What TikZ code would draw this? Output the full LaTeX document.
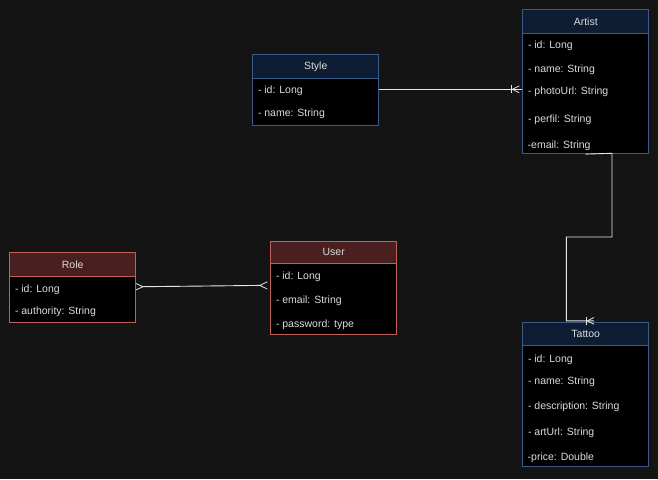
\documentclass[tikz,border=0pt]{standalone}
\usepackage{fontspec}
\setmainfont{Liberation Sans}
\definecolor{bg}{HTML}{141414}
\definecolor{hblue}{HTML}{0E1D33}
\definecolor{bblue}{HTML}{3B5B87}
\definecolor{hred}{HTML}{4A1F1F}
\definecolor{bred}{HTML}{C0605C}
\definecolor{txt}{HTML}{DCDCDC}
\definecolor{wire}{HTML}{E6E6E6}
\begin{document}
\begin{tikzpicture}[x=1pt,y=-1pt,
  font=\fontsize{10.5}{12}\selectfont,
  hdr/.style={draw=#1, line width=0.8pt, anchor=north west, minimum width=126pt, inner sep=0pt, text=txt},
  hdrb/.style={hdr=bblue, fill=hblue},
  hdrr/.style={hdr=bred, fill=hred},
  bodyb/.style={draw=bblue, line width=0.8pt, fill=black, anchor=north west, minimum width=126pt, inner sep=0pt},
  bodyr/.style={draw=bred, line width=0.8pt, fill=black, anchor=north west, minimum width=126pt, inner sep=0pt},
  row/.style={anchor=west, inner sep=0pt, text=txt, text height=7.6pt, text depth=0pt},
  wirel/.style={draw=wire, line width=0.9pt},
  crowmark/.style={draw=wire, line width=0.8pt}
]
\fill[bg] (0,0) rectangle (658,479);
\useasboundingbox (0,0) rectangle (658,479);

% Style
\node[bodyb, minimum height=47.3pt] (styleb) at (252.3,77.7) {};
\node[hdrb, minimum height=23.4pt] (style) at (252.3,54.3) {Style};
\node[row] (styleid) at (257.8,89.5) {- id: Long};
\node[row] (stylename) at (257.8,113) {- name: String};

% Artist
\node[bodyb, minimum height=120.6pt] (artistb) at (522.3,32.7) {};
\node[hdrb, minimum height=23.4pt] (artist) at (522.3,9.3) {Artist};
\node[row] (artistid) at (527.8,45) {- id: Long};
\node[row] (artistname) at (527.8,68.3) {- name: String};
\node[row] (artistphoto) at (527.8,91) {- photoUrl: String};
\node[row] (artistperfil) at (527.8,118.3) {- perfil: String};
\node[row] (artistemail) at (527.5,144.3) {-email: String};

% Role
\node[bodyr, minimum height=46.6pt] (roleb) at (9.3,275.7) {};
\node[hdrr, minimum height=23.4pt] (role) at (9.3,252.3) {Role};
\node[row] (roleid) at (14.8,288.3) {- id: Long};
\node[row] (roleauth) at (14.8,311) {- authority: String};

% User
\node[bodyr, minimum height=70.7pt] (userb) at (270.3,263.3) {};
\node[hdrr, minimum height=22.6pt] (user) at (270.3,240.7) {User};
\node[row] (userid) at (275.8,276) {- id: Long};
\node[row] (useremail) at (275.8,299.3) {- email: String};
\node[row] (userpass) at (275.8,323.3) {- password: type};

% Tattoo
\node[bodyb, minimum height=121pt] (tattoob) at (522.3,345) {};
\node[hdrb, minimum height=22.7pt] (tattoo) at (522.3,322.3) {Tattoo};
\node[row] (tattooid) at (527.8,358.3) {- id: Long};
\node[row] (tattooname) at (527.8,381) {- name: String};
\node[row] (tattoodesc) at (527.8,405.7) {- description: String};
\node[row] (tattooart) at (527.8,431.7) {- artUrl: String};
\node[row] (tattooprice) at (527.5,456.7) {-price: Double};

% Style -> Artist
\coordinate (sa1) at (styleb.east |- 0,89.3);
\coordinate (sa2) at (artistb.west |- 0,89.3);
\path[wirel] (sa1) -- (sa2);
\path[crowmark] ([xshift=-11pt,yshift=-4pt]sa2) -- ([xshift=-11pt,yshift=4pt]sa2);
\path[crowmark] ([xshift=-3pt,yshift=-3.5pt]sa2) -- ([xshift=-10pt]sa2) -- ([xshift=-3pt,yshift=3.5pt]sa2);

% Role <-> User
\coordinate (ru1) at (roleb.east |- 0,286.7);
\coordinate (ru2) at (userb.west |- 0,285.4);
\path[wirel] ([xshift=7pt]ru1) -- ([xshift=-10pt]ru2);
\path[crowmark] (ru1 |- 0,283.6) -- ([xshift=7pt]ru1) -- (ru1 |- 0,289.8);
\path[crowmark] ([xshift=-3pt,yshift=-3.6pt]ru2) -- ([xshift=-10.5pt]ru2) -- ([xshift=-3pt,yshift=3.6pt]ru2);

% Artist -> Tattoo
\coordinate (at1) at (artistb.south);
\coordinate (at6) at (594,320.8);
\path[wirel] (at1) -- (612,153.3) -- (612,237) -- (566.3,237) -- (566.3,320.8) -- (at6);
\path[crowmark] (586.3,317.3) -- (586.3,324.6);
\path[crowmark] (594,317.5) -- (587.3,320.8) -- (594,324.3);
\end{tikzpicture}
\end{document}
